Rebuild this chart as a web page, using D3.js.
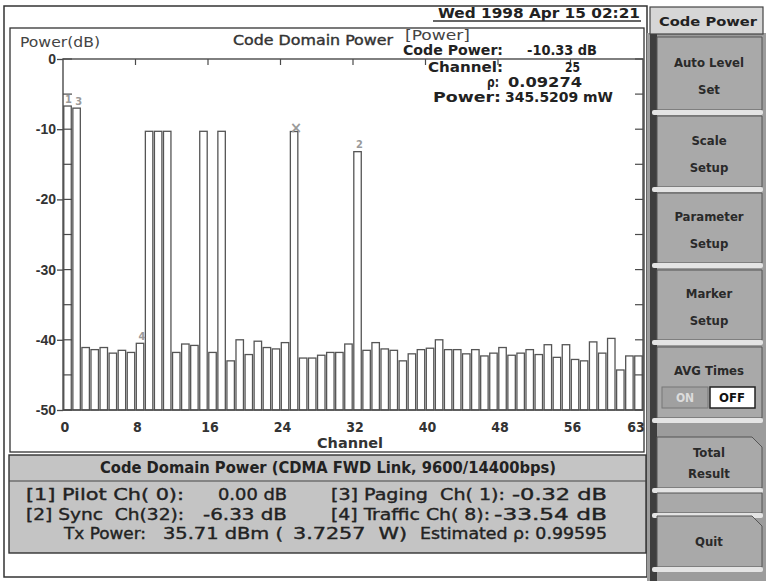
<!DOCTYPE html>
<html>
<head>
<meta charset="utf-8">
<script src="https://cdn.jsdelivr.net/npm/d3@7"></script>
<style>
  body { margin: 0; background: #fff; }
  svg { display: block; font-family: "DejaVu Sans Condensed", "Liberation Sans Narrow", "DejaVu Sans", sans-serif; }
</style>
</head>
<body>
<div id="chart"></div>
<script>
// Code domain power screen of a CDMA analyzer (64 Walsh channels)
const channels = d3.range(64);
const codePower = [
  -6.7, -7.0, -41.1, -41.4, -41.1, -41.9, -41.5, -41.8, -40.5, -10.3,
  -10.3, -10.3, -41.8, -40.6, -40.8, -10.3, -41.8, -10.3, -43.0, -40.0,
  -42.1, -40.2, -41.1, -41.3, -40.4, -10.33, -42.6, -42.6, -42.2, -41.8,
  -41.8, -40.6, -13.2, -41.5, -40.4, -41.3, -41.5, -43.0, -42.0, -41.4,
  -41.2, -40.0, -41.4, -41.4, -42.0, -41.4, -42.3, -41.9, -41.1, -42.2,
  -41.9, -41.4, -42.1, -40.7, -42.5, -40.7, -42.8, -43.0, -40.3, -41.9,
  -39.8, -44.3, -42.3, -42.3
];
const yTicks = [0, -10, -20, -30, -40, -50];
const yMinorTicks = d3.range(0, -51, -5);
const xTickChannels = [0, 8, 16, 24, 32, 40, 48, 56, 63];
const markerLabels = ["1", "3", "4", "\u00d7", "2"];
const markerChannels = [0, 1, 8, 25, 32];

const readoutLabels = ["Code Power:", "Channel:", "\u03c1:", "Power:"];
const readoutValues = ["-10.33 dB", "25", "0.09274", "345.5209 mW"];

const summaryRows = [
  ["[1] Pilot Ch( 0):", "0.00 dB", "[3] Paging  Ch( 1):", "-0.32 dB"],
  ["[2] Sync  Ch(32):", "-6.33 dB", "[4] Traffic Ch( 8):", "-33.54 dB"],
  ["Tx Power:", "35.71 dBm (", "3.7257  W)", "Estimated \u03c1: 0.99595"]
];
const menuLabels = [["Auto Level", "Set"], ["Scale", "Setup"], ["Parameter", "Setup"],
                    ["Marker", "Setup"], ["AVG Times"], ["Total", "Result"], [], ["Quit"]];

const width = 766, height = 581;
const ink = "#222", line = "#4a4a4a";

const svg = d3.select("#chart").append("svg")
    .attr("width", width)
    .attr("height", height);

// text helper: fixed extent through textLength
function put(g, str, x, y, o = {}) {
  const t = g.append("text")
      .attr("x", x).attr("y", y)
      .attr("font-size", o.size || 14)
      .attr("font-weight", o.bold ? "bold" : "normal")
      .attr("fill", o.fill || ink)
      .attr("text-anchor", o.anchor || "start")
      .attr("dominant-baseline", "central")
      .style("white-space", "pre")
      .text(str);
  if (o.w) t.attr("textLength", o.w).attr("lengthAdjust", "spacingAndGlyphs");
  if (o.heavy) t.attr("stroke", o.fill || ink).attr("stroke-width", 0.35);
  return t;
}

// outer frame + graph frame
svg.append("rect").attr("x", 4).attr("y", 6).attr("width", 643).attr("height", 571)
    .attr("fill", "#fff").attr("stroke", "#333").attr("stroke-width", 1.5);
svg.append("rect").attr("x", 10).attr("y", 28).attr("width", 634).attr("height", 424)
    .attr("fill", "#fff").attr("stroke", "#333").attr("stroke-width", 1.3);

// scales
const x = d3.scaleBand().domain(channels).range([63, 643]);
const y = d3.scaleLinear().domain([-50, 0]).range([410, 59]);
const bw = x.bandwidth();

// bars
svg.append("g")
  .selectAll("rect")
  .data(codePower)
  .join("rect")
    .attr("x", (d, i) => x(i) + 0.8)
    .attr("y", d => y(d))
    .attr("width", bw - 1.6)
    .attr("height", d => y(-50) - y(d))
    .attr("fill", "#fff")
    .attr("stroke", "#555")
    .attr("stroke-width", 1.3);

// plot box
svg.append("rect").attr("x", 63).attr("y", 59).attr("width", 580).attr("height", 351)
    .attr("fill", "none").attr("stroke", line).attr("stroke-width", 1.4);

// left axis: outer ticks + labels every 10 dB
const yAxis = svg.append("g").attr("transform", "translate(63,0)")
    .call(d3.axisLeft(y).tickValues(yTicks).tickSize(6).tickFormat(d => String(d)));
yAxis.select(".domain").remove();
yAxis.selectAll("line").attr("stroke", line).attr("stroke-width", 1.3);
yAxis.selectAll("text").attr("font-size", 14).attr("font-weight", "bold")
    .attr("fill", "#333").attr("x", -7);

// inner ticks every 5 dB, left and right
svg.append("g").selectAll("line").data(yMinorTicks).join("line")
    .attr("x1", 63).attr("x2", 72).attr("y1", d => y(d)).attr("y2", d => y(d))
    .attr("stroke", line).attr("stroke-width", 1.2);
svg.append("g").selectAll("line").data(yMinorTicks).join("line")
    .attr("x1", 635).attr("x2", 643).attr("y1", d => y(d)).attr("y2", d => y(d))
    .attr("stroke", line).attr("stroke-width", 1.2);
// top ticks every 8 channels
svg.append("g").selectAll("line").data(xTickChannels.slice(1, -1)).join("line")
    .attr("x1", d => x(d)).attr("x2", d => x(d)).attr("y1", 59).attr("y2", 65)
    .attr("stroke", line).attr("stroke-width", 1.2);

// channel labels
svg.append("g").selectAll("text").data(xTickChannels).join("text")
    .attr("x", d => x(d) + 2)
    .attr("y", 427)
    .attr("text-anchor", "middle")
    .attr("dominant-baseline", "central")
    .attr("font-size", 14)
    .attr("font-weight", "bold")
    .attr("fill", "#333")
    .text(d => d);
put(svg, "Channel", 350, 443, {anchor: "middle", w: 66, bold: true, fill: "#333"});

// markers on bars
svg.append("g").selectAll("text").data(markerChannels).join("text")
    .attr("x", (d, i) => x(d) + bw / 2 + (i === 0 ? 1 : 2))
    .attr("y", d => y(codePower[d]) - (d === 25 ? 4 : 7))
    .attr("text-anchor", "middle")
    .attr("dominant-baseline", "central")
    .attr("font-size", d => d === 25 ? 16 : 11)
    .attr("font-weight", "bold")
    .attr("fill", "#9a9a9a")
    .text((d, i) => markerLabels[i]);

// header texts
put(svg, "Wed 1998 Apr 15 02:21", 438, 13, {bold: true, w: 202});
svg.append("line").attr("x1", 433).attr("x2", 641).attr("y1", 21).attr("y2", 21)
    .attr("stroke", "#333").attr("stroke-width", 1.3);
put(svg, "Power(dB)", 20, 42, {w: 80, fill: "#444"});
put(svg, "Code Domain Power", 233, 40, {w: 160, fill: "#333", heavy: true});
put(svg, "[Power]", 405, 35, {w: 65, fill: "#444"});

// marker readout
const readY = [50, 67, 82, 97];
const readLabelX = [[403, 100], [428, 75], [487, 12], [433, 68]];
const readValX = [[527, 70], [565, 15], [508, 74], [505, 108]];
readoutLabels.forEach((s, i) => put(svg, s, readLabelX[i][0], readY[i], {bold: true, w: readLabelX[i][1]}));
readoutValues.forEach((s, i) => put(svg, s, readValX[i][0], readY[i], {bold: true, w: readValX[i][1]}));

// summary panel
const panel = svg.append("g");
panel.append("rect").attr("x", 9).attr("y", 455).attr("width", 637).attr("height", 98)
    .attr("fill", "#c4c4c4").attr("stroke", "#333").attr("stroke-width", 1.4);
panel.append("line").attr("x1", 9).attr("x2", 646).attr("y1", 481).attr("y2", 481)
    .attr("stroke", "#444").attr("stroke-width", 1.2);
put(panel, "Code Domain Power (CDMA FWD Link, 9600/14400bps)", 100, 468, {bold: true, w: 456, size: 15});
const rowY = [494, 514, 533];
const segX = [
  [[26, 158], [218, 69], [331, 174], [512, 95]],
  [[26, 158], [203, 84], [331, 159], [494, 113]],
  [[64, 82], [163, 120], [293, 114], [420, 187]]
];
summaryRows.forEach((row, r) => row.forEach((s, c) =>
  put(panel, s, segX[r][c][0], rowY[r], {w: segX[r][c][1], size: 16, heavy: true})));

// soft-key column
const keys = svg.append("g");
keys.append("rect").attr("x", 647).attr("y", 33).attr("width", 119).attr("height", 548)
    .attr("fill", "#9c9c9c");
keys.append("rect").attr("x", 650).attr("y", 33).attr("width", 7).attr("height", 548)
    .attr("fill", "#3e3e3e");
keys.append("rect").attr("x", 650).attr("y", 7).attr("width", 113).attr("height", 27)
    .attr("fill", "#d6d6d6").attr("stroke", "#444").attr("stroke-width", 1.2);
put(keys, "Code Power", 708, 21, {anchor: "middle", bold: true, w: 98, size: 13});

const keyBox = [[37, 110], [116, 187], [193, 263], [270, 340], [347, 418], [437, 488], [493, 513], [516, 567]];
keyBox.forEach(([y0, y1], i) => {
  const notch = i === 5 || i === 7;
  const p = notch
    ? `M657,${y0}H752L762,${y0 + 10}V${y1}H657Z`
    : `M657,${y0}H762V${y1}H657Z`;
  keys.append("path").attr("d", p).attr("fill", "#a9a9a9").attr("stroke", "#555").attr("stroke-width", 1);
  keys.append("rect").attr("x", 652).attr("y", y1).attr("width", 111).attr("height", 5)
      .attr("rx", 2).attr("fill", "#e4e4e4");
  const lab = menuLabels[i];
  const cy = (y0 + y1) / 2 + (y1 - y0 > 60 ? 2 : 0);
  const gap = y1 - y0 > 60 ? 27 : 21;
  lab.forEach((s, j) => {
    const ly = lab.length === 2 ? cy + (j - 0.5) * gap : (i === 4 ? 370 : cy);
    put(keys, s, 709, ly, {anchor: "middle", bold: true, size: 13, fill: "#2a2a2a"});
  });
});
// AVG toggle
keys.append("rect").attr("x", 662).attr("y", 387).attr("width", 46).attr("height", 21)
    .attr("fill", "#a0a0a0").attr("stroke", "#777");
put(keys, "ON", 685, 397.5, {anchor: "middle", bold: true, size: 12, fill: "#dcdcdc"});
keys.append("rect").attr("x", 710).attr("y", 387).attr("width", 45).attr("height", 21)
    .attr("fill", "#fff").attr("stroke", "#222").attr("stroke-width", 1.5);
put(keys, "OFF", 732, 397.5, {anchor: "middle", bold: true, size: 13, fill: "#111"});
</script>
</body>
</html>
